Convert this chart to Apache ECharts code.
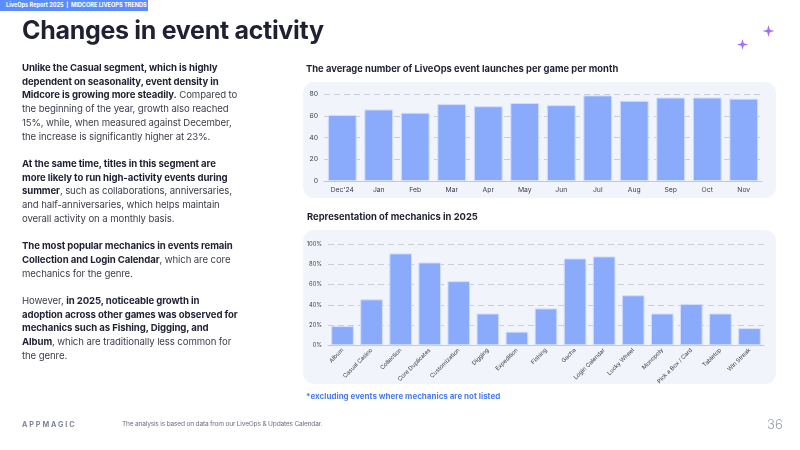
<!DOCTYPE html>
<html>
<head>
<meta charset="utf-8">
<script src="https://cdn.jsdelivr.net/npm/echarts@6/dist/echarts.min.js"></script>
<style>
  html, body { margin: 0; padding: 0; background: #fff; }
  body { width: 800px; height: 450px; position: relative; overflow: hidden; font-family: Inter, "Noto Sans", sans-serif; }
  #chart { position: absolute; left: 0; top: 0; width: 800px; height: 450px; }
  .topbar { position: absolute; left: 0; top: 0; width: 148px; height: 11px; background: #5b8cfb; color: #fff;
    font-size: 5.6px; font-weight: 700; line-height: 11px; padding-left: 6px; box-sizing: border-box; white-space: nowrap; }
  h1 { position: absolute; left: 22px; top: 15px; margin: 0; font-size: 25px; font-weight: 700; color: #1f2033; letter-spacing: -0.3px; white-space: nowrap; }
  .text { position: absolute; left: 22px; top: 61px; font-size: 9.6px; line-height: 13.7px; color: #3b3d4a; white-space: nowrap; letter-spacing: -0.1px; }
  .text p { margin: 0 0 13.7px 0; }
  .text b { color: #1f2033; font-weight: 700; }
  .note { position: absolute; left: 306px; top: 391px; font-size: 8px; font-weight: 700; color: #4a7bf7; white-space: nowrap; }
  .logo { position: absolute; left: 22px; top: 420px; font-size: 7.2px; font-weight: 700; color: #7f8494; letter-spacing: 1.9px; }
  .src { position: absolute; left: 122px; top: 420px; font-size: 6.6px; color: #6b6f7c; letter-spacing: -0.2px; white-space: nowrap; }
  .page { position: absolute; left: 767px; top: 416px; font-size: 13px; color: #9a9ea8; font-weight: 300; }
</style>
</head>
<body>
<div id="chart"></div>
<div class="topbar">LiveOps Report 2025&nbsp; |&nbsp; MIDCORE LIVEOPS TRENDS</div>
<h1>Changes in event activity</h1>
<div class="text">
  <p><b>Unlike the Casual segment, which is highly<br>dependent on seasonality, event density in<br>Midcore is growing more steadily.</b> Compared to<br>the beginning of the year, growth also reached<br>15%, while, when measured against December,<br>the increase is significantly higher at 23%.</p>
  <p><b>At the same time, titles in this segment are<br>more likely to run high-activity events during<br>summer</b>, such as collaborations, anniversaries,<br>and half-anniversaries, which helps maintain<br>overall activity on a monthly basis.</p>
  <p><b>The most popular mechanics in events remain<br>Collection and Login Calendar</b>, which are core<br>mechanics for the genre.</p>
  <p>However, <b>in 2025, noticeable growth in<br>adoption across other games was observed for<br>mechanics such as Fishing, Digging, and<br>Album</b>, which are traditionally less common for<br>the genre.</p>
</div>
<div class="note">*excluding events where mechanics are not listed</div>
<div class="logo">APPMAGIC</div>
<div class="src">The analysis is based on data from our LiveOps &amp; Updates Calendar.</div>
<div class="page">36</div>
<script>
const months = ["Dec'24", 'Jan', 'Feb', 'Mar', 'Apr', 'May', 'Jun', 'Jul', 'Aug', 'Sep', 'Oct', 'Nov'];
const launches = [61, 66, 63, 71, 69, 72, 70, 79, 74, 77, 77, 76];

const mechanics = ['Album', 'Casual Casino', 'Collection', 'Core Duplicates', 'Customization', 'Digging',
  'Expedition', 'Fishing', 'Gacha', 'Login Calendar', 'Lucky Wheel', 'Monopoly', 'Pick a Box / Card',
  'Tabletop', 'Win Streak'];
const share = [19, 45.5, 91, 82, 63.5, 31.5, 13.5, 36.5, 86, 88, 49.5, 31.5, 41, 31.5, 17];

const barColor = '#8aaafb';
const gridLine = { show: true, lineStyle: { color: '#c9ced8', type: [6, 4], width: 1 } };

// four-point sparkle as a polygon
function sparkle(cx, cy, r) {
  const k = r * 0.22;
  return {
    type: 'polygon',
    shape: { points: [[cx, cy - r], [cx + k, cy - k], [cx + r, cy], [cx + k, cy + k],
      [cx, cy + r], [cx - k, cy + k], [cx - r, cy], [cx - k, cy - k]] },
    style: { fill: '#a26ff0' }
  };
}

const chart = echarts.init(document.getElementById('chart'));

chart.setOption({
  animation: false,
  textStyle: { fontFamily: 'Inter' },
  title: [
    { text: 'The average number of LiveOps event launches per game per month', left: 301, top: 60,
      textStyle: { fontSize: 9.4, fontWeight: 'bold', color: '#1f2033' } },
    { text: 'Representation of mechanics in 2025', left: 302, top: 208,
      textStyle: { fontSize: 9.4, fontWeight: 'bold', color: '#1f2033' } }
  ],
  graphic: [
    { type: 'rect', z: -10, shape: { x: 303, y: 82, width: 473, height: 116, r: 11 }, style: { fill: '#f1f5fb' } },
    { type: 'rect', z: -10, shape: { x: 303, y: 230, width: 473, height: 154, r: 11 }, style: { fill: '#f1f5fb' } },
    sparkle(742.5, 44.5, 5.5),
    sparkle(768.5, 31, 6)
  ],
  grid: [
    { left: 324, right: 38, top: 94.3, bottom: 269 },
    { left: 328, right: 36, top: 244.3, bottom: 104.7 }
  ],
  xAxis: [
    { type: 'category', gridIndex: 0, data: months,
      axisLine: { lineStyle: { color: '#c4c8d0', width: 1.2 } }, axisTick: { show: false },
      axisLabel: { fontSize: 6.8, color: '#3b3d4a', margin: 5 } },
    { type: 'category', gridIndex: 1, data: mechanics,
      axisLine: { lineStyle: { color: '#c4c8d0', width: 1.2 } }, axisTick: { show: false },
      axisLabel: { fontSize: 5.8, color: '#3b3d4a', rotate: 45, margin: 4, interval: 0 } }
  ],
  yAxis: [
    { type: 'value', gridIndex: 0, min: 0, max: 80, interval: 20,
      axisLine: { show: false }, axisTick: { show: false }, splitLine: gridLine,
      axisLabel: { fontSize: 6.8, color: '#3b3d4a', margin: 6 } },
    { type: 'value', gridIndex: 1, min: 0, max: 100, interval: 20,
      axisLine: { show: false }, axisTick: { show: false }, splitLine: gridLine,
      axisLabel: { fontSize: 5.8, color: '#3b3d4a', margin: 6, formatter: '{value}%' } }
  ],
  series: [
    { type: 'bar', xAxisIndex: 0, yAxisIndex: 0, data: launches, barCategoryGap: '21%',
      itemStyle: { color: barColor, borderColor: '#d3defc', borderWidth: 1 } },
    { type: 'bar', xAxisIndex: 1, yAxisIndex: 1, data: share, barCategoryGap: '22%',
      itemStyle: { color: barColor, borderColor: '#d3defc', borderWidth: 1 } }
  ]
});
</script>
</body>
</html>
